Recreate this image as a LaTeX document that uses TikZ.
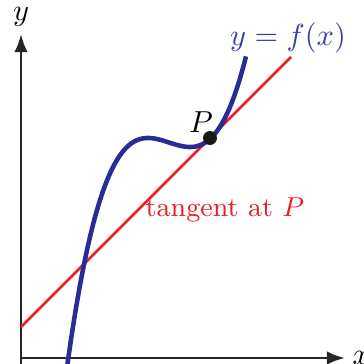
\documentclass[tikz,border=0pt]{standalone}
\usepackage{amsmath}
\usepackage{tikz}
\usetikzlibrary{positioning,calc,arrows.meta}
\definecolor{curveblue}{RGB}{40,44,150}
\definecolor{labelblue}{RGB}{60,60,175}
\definecolor{tanred}{RGB}{232,30,40}

\begin{document}
\begin{tikzpicture}[x=0.01157cm, y=0.01157cm,
        axis/.style={line width=0.9pt, draw=black!85, -{Latex[length=6pt,width=4.5pt]}},
        curve/.style={line width=1.5pt, draw=curveblue},
        tangent/.style={line width=0.9pt, draw=tanred},
        dot/.style={circle, fill=black!90, inner sep=0pt, minimum size=4.6pt},
        lbl/.style={font=\normalsize},
      ]
      \useasboundingbox (-21,-6) rectangle (343,358);
      % Axes
      \coordinate (O) at (0,0);
      \coordinate (ybot) at (0,-6);
      \coordinate (xend) at (324,0);
      \coordinate (yend) at (0,324);
      \draw [axis] (O) -- (xend);
      \draw [axis] (ybot) -- (yend);
      \node [lbl, above=-1pt of yend] (ylab) {$y$};
      \node [lbl, right=-1pt of xend] (xlab) {$x$};
      % Tangent at P
      \coordinate (tanA) at (0,31);
      \coordinate (tanB) at (270,301);
      \draw [tangent] (tanA) -- (tanB);
      % Curve y = f(x)
      \draw [curve] plot [domain=-10.2:7.7, samples=120, smooth] ({148+10*\x}, {215.5+0.243*(\x*\x*\x-13.23*\x)});
      % Point P
      \node [dot] (P) at (189,220) {};
      \node [lbl] (plab) at (180,236) {$P$};
      \node [lbl, text=labelblue] (flab) at (267,320) {$y = f(x)$};
      \node [lbl, text=tanred, font=\small] (tlab) at (204,148) {tangent at $P$};
    \end{tikzpicture}
\end{document}
